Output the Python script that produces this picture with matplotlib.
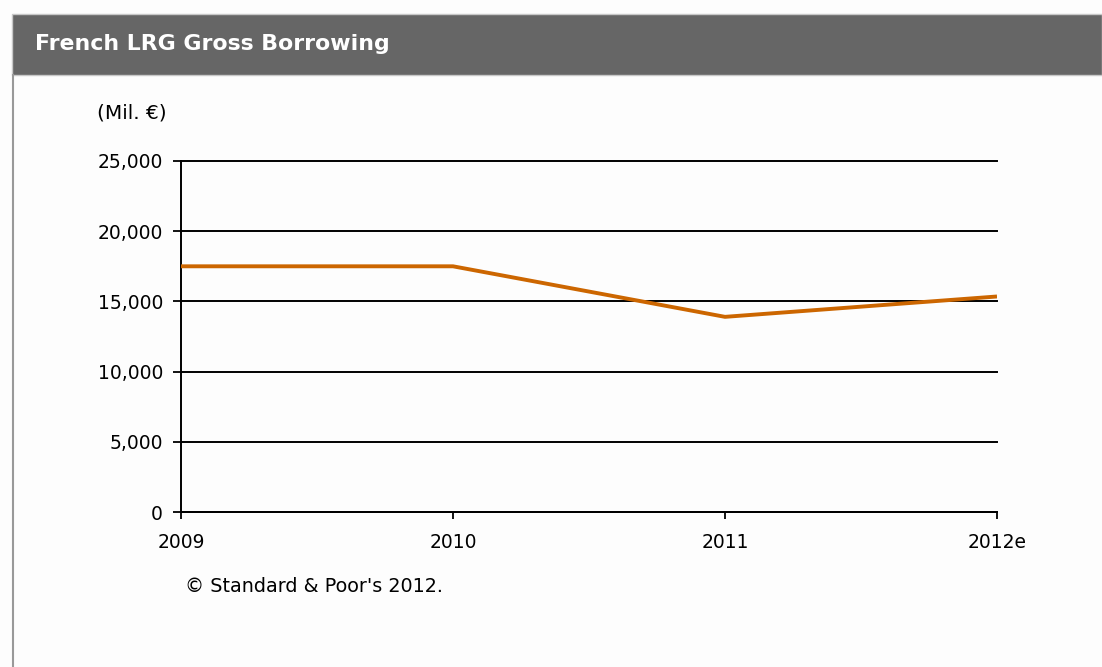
import matplotlib
matplotlib.use("Agg")
import matplotlib.pyplot as plt
from matplotlib.patches import Rectangle
from matplotlib.lines import Line2D
from matplotlib.ticker import FuncFormatter

# Data
years = ["2009", "2010", "2011", "2012e"]
gross_borrowing = [17500, 17500, 13900, 15350]
y_ticks = [0, 5000, 10000, 15000, 20000, 25000]

W, H = 1102, 667
fig = plt.figure(figsize=(W / 100, H / 100), dpi=100)
fig.patch.set_facecolor("#fdfdfd")

# Header band and left frame line
fig.patches.append(Rectangle((12 / W, 1 - 75 / H), 1 - 12 / W, 61 / H,
                             transform=fig.transFigure, facecolor="#666666",
                             edgecolor="#c8c8c8", linewidth=1.0))
fig.lines.append(Line2D([12.5 / W, 12.5 / W], [0, 1 - 75 / H],
                        transform=fig.transFigure, color="#999999", linewidth=1.5))
fig.text(35 / W, 1 - 44 / H, "French LRG Gross Borrowing", color="white",
         fontsize=15.8, fontweight="bold", family="DejaVu Sans",
         ha="left", va="center")

ax = fig.add_axes([181 / W, 1 - 512 / H, 816 / W, 351 / H])
ax.set_facecolor("#fdfdfd")
x = list(range(len(years)))
ax.plot(x, gross_borrowing, color="#cc6600", linewidth=2.8, solid_capstyle="butt", zorder=3)

ax.set_xlim(0, len(years) - 1)
ax.set_ylim(0, 25000)
ax.set_xticks(x)
ax.set_xticklabels(years)
ax.set_yticks(y_ticks)
ax.yaxis.set_major_formatter(FuncFormatter(lambda v, p: f"{int(v):,}"))

ax.grid(axis="y", color="black", linewidth=1.4)
for gl in ax.get_ygridlines():
    gl.set_clip_on(False)
ax.set_axisbelow(True)

for s in ["top", "right"]:
    ax.spines[s].set_visible(False)
for s in ["left", "bottom"]:
    ax.spines[s].set_color("black")
    ax.spines[s].set_linewidth(1.4)

ax.tick_params(axis="y", length=6, width=1.3, pad=7, labelsize=13.5, colors="black")
ax.tick_params(axis="x", length=5, width=1.3, pad=10, labelsize=13.5, colors="black")
for lbl in ax.get_xticklabels() + ax.get_yticklabels():
    lbl.set_family("DejaVu Sans")

fig.text(97 / W, 1 - 113 / H, "(Mil. €)", fontsize=14.5, family="DejaVu Sans",
         ha="left", va="center", color="black")
fig.text(185 / W, 1 - 587 / H, "© Standard & Poor's 2012.", fontsize=13.8,
         family="DejaVu Sans", ha="left", va="center", color="black")

fig.savefig("out.png", dpi=100, facecolor=fig.get_facecolor())
